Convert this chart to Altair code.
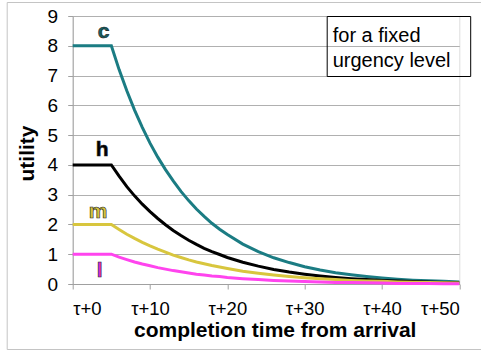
import altair as alt
import pandas as pd

# completion time (offset from arrival τ)
times = [0, 5, 6, 7, 8, 9, 10, 11, 12, 13, 14, 15, 16, 17, 18, 19, 20,
         22, 24, 26, 28, 30, 32, 34, 36, 38, 40, 42, 44, 46, 48, 50]

# utility per class
util_c = [8, 8, 7.2, 6.49, 5.84, 5.26, 4.73, 4.26, 3.84, 3.46, 3.11, 2.8, 2.52, 2.27, 2.04, 1.84, 1.66,
          1.34, 1.09, 0.88, 0.72, 0.58, 0.47, 0.38, 0.31, 0.25, 0.2, 0.16, 0.13, 0.11, 0.09, 0.07]
util_h = [4, 4, 3.62, 3.27, 2.96, 2.68, 2.43, 2.2, 1.99, 1.8, 1.63, 1.47, 1.33, 1.2, 1.09, 0.99, 0.89,
          0.73, 0.6, 0.49, 0.4, 0.33, 0.27, 0.22, 0.18, 0.15, 0.12, 0.1, 0.08, 0.07, 0.05, 0.04]
util_m = [2, 2, 1.83, 1.67, 1.53, 1.4, 1.28, 1.17, 1.07, 0.97, 0.89, 0.81, 0.74, 0.68, 0.62, 0.57, 0.52,
          0.43, 0.36, 0.3, 0.25, 0.21, 0.18, 0.15, 0.12, 0.1, 0.09, 0.07, 0.06, 0.05, 0.04, 0.03]
util_l = [1, 1, 0.9, 0.82, 0.74, 0.67, 0.61, 0.55, 0.5, 0.45, 0.41, 0.37, 0.33, 0.3, 0.27, 0.25, 0.22,
          0.18, 0.15, 0.12, 0.1, 0.08, 0.07, 0.05, 0.05, 0.04, 0.03, 0.02, 0.02, 0.02, 0.01, 0.01]

series_names = ["c", "h", "m", "l"]
series_colors = ["#1b7c83", "#000000", "#d8c63e", "#ff44ee"]
label_fills = ["#145f64", "#000000", "#d8c63e", "#e02ad0"]

# in-plot series labels
label_t = [4.0, 3.8, 3.3, 3.5]
label_u = [8.45, 4.5, 2.43, 0.44]

x_ticks = [0, 10, 20, 30, 40, 50]
y_ticks = [0, 1, 2, 3, 4, 5, 6, 7, 8, 9]

rows = []
for name, vals in zip(series_names, [util_c, util_h, util_m, util_l]):
    for t, u in zip(times, vals):
        rows.append({"series": name, "t": t, "u": u})
df = pd.DataFrame(rows)

labels_df = pd.DataFrame({"series": series_names, "t": label_t, "u": label_u,
                          "fillc": label_fills})

FONT = "Liberation Sans"

x_enc = alt.X("t:Q",
              scale=alt.Scale(domain=[0, 50], nice=False, zero=False),
              axis=alt.Axis(values=x_ticks, labelExpr="'τ+' + datum.value",
                            title="completion time from arrival",
                            grid=False, tickSize=5, labelPadding=10, labelOverlap=False,
                            labelFontSize=18.5, titleFontSize=21, titleFontWeight="bold",
                            titleX=202, titleY=52.5, titleBaseline="alphabetic",
                            domainColor="#a0a0a0", tickColor="#a0a0a0"))
y_enc = alt.Y("u:Q",
              scale=alt.Scale(domain=[0, 9], nice=False),
              axis=alt.Axis(values=y_ticks, title="utility",
                            grid=True, gridColor="#b0b0b0", tickSize=5, labelPadding=10,
                            labelOverlap=False,
                            labelFontSize=19, titleFontSize=21, titleFontWeight="bold",
                            titleAngle=270, titleX=-45, titleY=137,
                            titleBaseline="middle", titleAlign="center",
                            domainColor="#a0a0a0", tickColor="#a0a0a0"))

color_scale = alt.Scale(domain=series_names, range=series_colors)

lines = alt.Chart(df).mark_line(strokeWidth=3).encode(
    x=x_enc, y=y_enc,
    color=alt.Color("series:N", scale=color_scale, legend=None),
)

series_labels = alt.Chart(labels_df).mark_text(
    font=FONT, fontSize=21, fontWeight="bold", stroke="#222222", strokeWidth=0.6,
    baseline="middle", align="center"
).encode(
    x=x_enc, y=y_enc,
    text="series:N",
    fill=alt.Fill("fillc:N", scale=None),
)

one = pd.DataFrame({"k": [0]})

note_box = alt.Chart(one).mark_rect(filled=False, stroke="#000000", strokeWidth=1).encode(
    x=alt.value(254.5), x2=alt.value(398), y=alt.value(0.5), y2=alt.value(60.5)
)
note_text = alt.Chart(one).mark_text(
    font=FONT, fontSize=20, align="left", baseline="alphabetic", lineHeight=25
).encode(
    x=alt.value(260), y=alt.value(25.5),
    text=alt.value(["for a fixed", "urgency level"]),
)

frame = alt.Chart(one).mark_rect(filled=False, stroke="#c4c4c4", strokeWidth=1).encode(
    x=alt.value(-65.5), x2=alt.value(420), y=alt.value(-13.5), y2=alt.value(333.5)
)

chart = alt.layer(frame, lines, series_labels, note_box, note_text).properties(
    width=386.6, height=268,
    padding={"left": 72.7, "top": 16, "right": 21.7, "bottom": 70},
    autosize=alt.AutoSizeParams(type="none"),
).configure_view(stroke=None).configure_axis(
    labelFont=FONT, titleFont=FONT, labelColor="#000000", titleColor="#000000"
).configure(background="#ffffff")

chart.save("out.html", embed_options={"renderer": "svg", "actions": False})
